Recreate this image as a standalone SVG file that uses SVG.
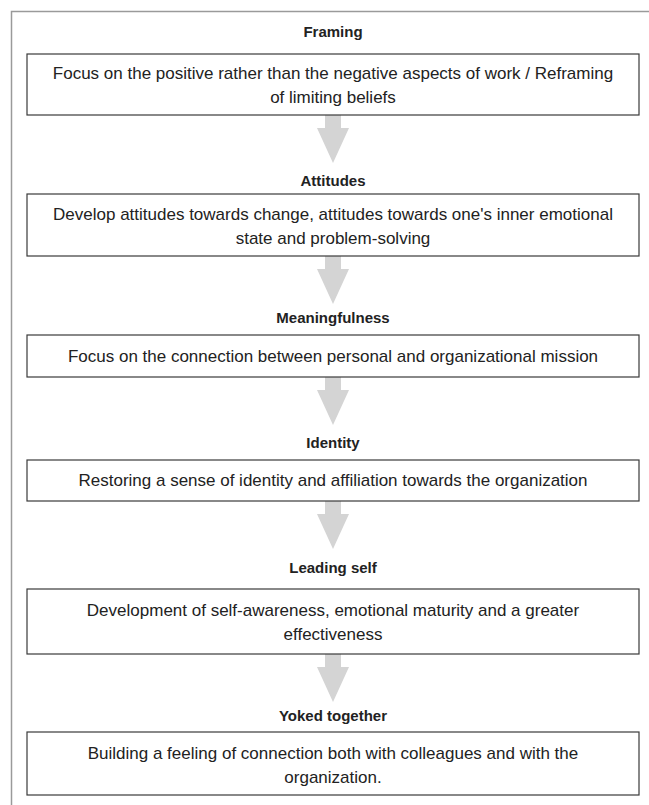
<svg xmlns="http://www.w3.org/2000/svg" width="649" height="805" viewBox="0 0 649 805">
  <style>
    .frame { fill: none; stroke: #9a9a9a; stroke-width: 1.5; }
    .box { fill: #ffffff; stroke: #3a3a3a; stroke-width: 1.2; }
    .title { font-family: "Liberation Sans", Arial, sans-serif; font-size: 15px; font-weight: bold; fill: #222222; text-anchor: middle; }
    .body { font-family: "Liberation Sans", Arial, sans-serif; font-size: 17px; fill: #222222; text-anchor: middle; }
    .arrow { fill: #d4d4d4; stroke: none; }
  </style>
  <defs>
    <polygon id="arr" points="325,0 341,0 341,13 349,13 333,48 317,13 325,13"/>
  </defs>
  <rect width="649" height="805" fill="#ffffff"/>
  <path class="frame" d="M11.5,805 V11.5 H649"/>

  <g id="connectors">
    <use href="#arr" class="arrow" x="0" y="115"/>
    <use href="#arr" class="arrow" x="0" y="256"/>
    <use href="#arr" class="arrow" x="0" y="377"/>
    <use href="#arr" class="arrow" x="0" y="501"/>
    <use href="#arr" class="arrow" x="0" y="654"/>
  </g>

  <g id="framing">
    <text class="title" x="333" y="37">Framing</text>
    <rect class="box" x="27" y="54" width="612" height="61"/>
    <text class="body" x="333" y="79">Focus on the positive rather than the negative aspects of work / Reframing</text>
    <text class="body" x="333" y="103">of limiting beliefs</text>
  </g>

  <g id="attitudes">
    <text class="title" x="333" y="186">Attitudes</text>
    <rect class="box" x="27" y="194" width="612" height="62"/>
    <text class="body" x="333" y="220">Develop attitudes towards change, attitudes towards one's inner emotional</text>
    <text class="body" x="333" y="244">state and problem-solving</text>
  </g>

  <g id="meaningfulness">
    <text class="title" x="333" y="323">Meaningfulness</text>
    <rect class="box" x="27" y="335" width="612" height="42"/>
    <text class="body" x="333" y="362">Focus on the connection between personal and organizational mission</text>
  </g>

  <g id="identity">
    <text class="title" x="333" y="448">Identity</text>
    <rect class="box" x="27" y="460" width="612" height="41"/>
    <text class="body" x="333" y="486">Restoring a sense of identity and affiliation towards the organization</text>
  </g>

  <g id="leading-self">
    <text class="title" x="333" y="573">Leading self</text>
    <rect class="box" x="27" y="589" width="612" height="65"/>
    <text class="body" x="333" y="616">Development of self-awareness, emotional maturity and a greater</text>
    <text class="body" x="333" y="640">effectiveness</text>
  </g>

  <g id="yoked-together">
    <text class="title" x="333" y="721">Yoked together</text>
    <rect class="box" x="27" y="732" width="612" height="63"/>
    <text class="body" x="333" y="759">Building a feeling of connection both with colleagues and with the</text>
    <text class="body" x="333" y="783">organization.</text>
  </g>
</svg>
